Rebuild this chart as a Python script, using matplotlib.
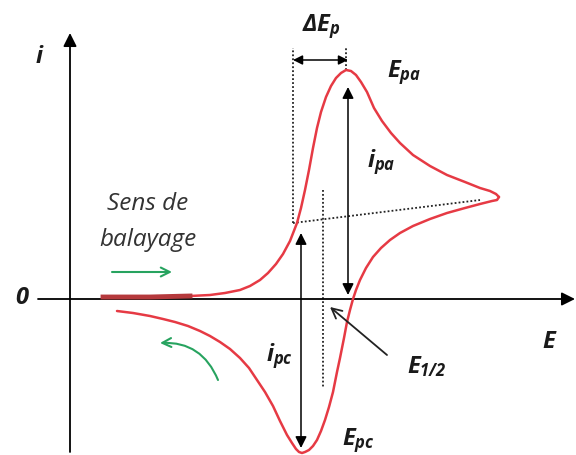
import matplotlib
matplotlib.use('Agg')
import matplotlib.pyplot as plt
from matplotlib.patches import FancyArrowPatch

plt.rcParams['font.family'] = ['Open Sans', 'DejaVu Sans']
plt.rcParams['mathtext.fontset'] = 'custom'
plt.rcParams['mathtext.it'] = 'Open Sans:italic:bold'
plt.rcParams['mathtext.rm'] = 'Open Sans:italic:bold'
plt.rcParams['mathtext.bf'] = 'Open Sans:italic:bold'

# forward scan (oxidation), potential E and current i in arbitrary units
E_fwd = [33, 80, 120, 140, 155, 170, 180, 190, 198, 206, 213, 220, 227, 231,
         235, 239, 243, 247, 251, 256, 261, 266, 271, 276, 281, 286, 291, 297,
         304, 312, 321, 330, 343, 360, 377, 395, 410, 420, 426, 429]
i_fwd = [2, 2, 3, 4, 6, 9, 13, 19, 26, 35, 45, 58, 76, 91,
         109, 129, 151, 171, 187, 202, 213, 221, 226, 229, 228, 224, 217, 207,
         191, 178, 166, 156, 144, 133, 124, 117, 111, 108, 105, 102]

# reverse scan (reduction)
E_rev = [429, 427, 422, 410, 395, 377, 360, 343, 330, 320, 311, 303, 296, 290,
         286, 283, 280, 277, 274, 270, 267, 263, 259, 255, 251, 247, 243, 239,
         235, 232, 229, 226, 222, 217, 210, 203, 195, 187, 179, 170, 160, 150,
         140, 130, 118, 105, 93, 80, 63, 47]
i_rev = [102, 99, 98, 95, 91, 86, 80, 73, 66, 59, 51, 42, 31, 19,
         9, 0, -11, -23, -39, -59, -73, -93, -108, -121, -132, -141, -147, -151,
         -153, -154, -153, -150, -144, -136, -122, -107, -93, -81, -69, -59, -50, -43,
         -37, -32, -27, -23, -20, -17, -14, -12]

# characteristic points
E_pa, i_pa_top = 276, 212
E_pc, i_pc_bot = 231, -149
E_base0, i_base0 = 223, 76
E_base1, i_base1 = 410, 99
E_half = 253
dE_level = 239

red = '#e63a44'
dark_red = '#b5393c'
green = '#27a35f'
txt = '#1a1a1a'

fig = plt.figure(figsize=(5.76, 4.55), dpi=100)
ax = fig.add_axes([0, 0, 1, 1])
ax.set_xlim(-70, 506)
ax.set_ylim(-156, 299)
ax.axis('off')

# axes with arrow heads
ax.annotate('', xy=(505, 0), xytext=(-32, 0),
            arrowprops=dict(arrowstyle='-|>', color='black', lw=1.3,
                            mutation_scale=20, shrinkA=0, shrinkB=0))
ax.annotate('', xy=(0, 266), xytext=(0, -153),
            arrowprops=dict(arrowstyle='-|>', color='black', lw=1.3,
                            mutation_scale=20, shrinkA=0, shrinkB=0))

# voltammogram
ax.plot(E_fwd, i_fwd, color=red, lw=1.8, solid_capstyle='round',
        solid_joinstyle='round', zorder=3)
ax.plot(E_rev, i_rev, color=red, lw=1.8, solid_capstyle='round',
        solid_joinstyle='round', zorder=3)
ax.plot(E_fwd[:3], i_fwd[:3], color=dark_red, lw=3.5, zorder=4)

# dotted construction lines
dot = dict(color='#222222', lw=1.3, ls=(0, (1, 1.2)))
ax.plot([E_base0, E_base0], [i_base0, 251], **dot)
ax.plot([E_pa, E_pa], [229, 251], **dot)
ax.plot([E_base0, E_base1], [i_base0, i_base1], **dot)
ax.plot([E_half, E_half], [109, -89], **dot)

# peak current and peak separation arrows
arr = dict(arrowstyle='<|-|>', color='black', lw=1.1, mutation_scale=17,
           shrinkA=0, shrinkB=0)
ax.annotate('', xy=(E_pa + 2, 4), xytext=(E_pa + 2, i_pa_top), arrowprops=arr)
ax.annotate('', xy=(E_pc, i_pc_bot), xytext=(E_pc, 66), arrowprops=arr)
ax.annotate('', xy=(E_base0, dE_level), xytext=(E_pa + 2, dE_level),
            arrowprops=dict(arr, mutation_scale=14))
ax.annotate('', xy=(260, -8), xytext=(317, -56),
            arrowprops=dict(arrowstyle='->', color='#222222', lw=1.3,
                            mutation_scale=18, shrinkA=0, shrinkB=0))

# scan direction
ax.annotate('', xy=(102, 27), xytext=(42, 27),
            arrowprops=dict(arrowstyle='->', color=green, lw=1.5,
                            mutation_scale=16, shrinkA=0, shrinkB=0))
ax.add_patch(FancyArrowPatch((148, -81), (90, -44),
                             connectionstyle='arc3,rad=0.35',
                             arrowstyle='->', color=green, lw=1.5,
                             mutation_scale=16, shrinkA=0, shrinkB=0))
ax.text(78, 95, 'Sens de', ha='center', va='center', fontsize=17.5,
        style='italic', color='#333333')
ax.text(78, 59, 'balayage', ha='center', va='center', fontsize=17.5,
        style='italic', color='#333333')

# labels
lab = dict(fontsize=17, color=txt, va='center')
ax.text(-30, 242, r'$i$', ha='center', **lab)
ax.text(-48, 1, r'$0$', ha='center', **lab)
ax.text(480, -43, r'$E$', ha='center', **lab)
ax.text(251, 272, r'$\Delta E_p$', ha='center', **lab)
ax.text(317, 226, r'$E_{pa}$', ha='left', **lab)
ax.text(297, 137, r'$i_{pa}$', ha='left', **lab)
ax.text(196, -57, r'$i_{pc}$', ha='left', **lab)
ax.text(337, -68, r'$E_{1/2}$', ha='left', **lab)
ax.text(272, -142, r'$E_{pc}$', ha='left', **lab)

fig.savefig('out.png', dpi=100)
